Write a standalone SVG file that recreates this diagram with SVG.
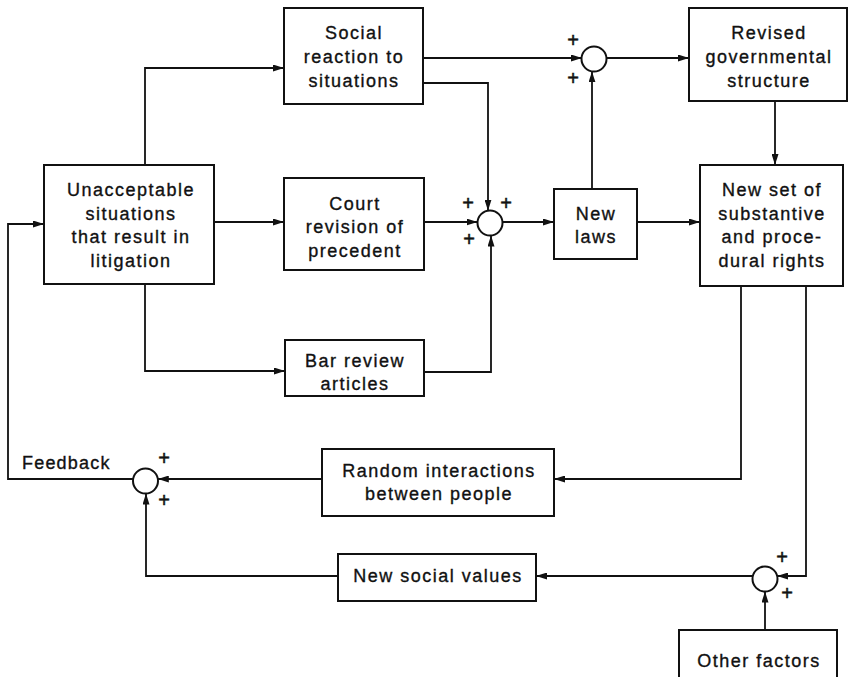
<svg xmlns="http://www.w3.org/2000/svg" width="849" height="677" viewBox="0 0 849 677">
<defs>
<marker id="ah" markerWidth="11" markerHeight="7" refX="11" refY="3.5" orient="auto" markerUnits="userSpaceOnUse"><path d="M0,0 L11,3.5 L0,7 z" fill="#111"/></marker>
<style>
.box{fill:#fff;stroke:#111;stroke-width:2}
.sum{fill:#fff;stroke:#111;stroke-width:2}
.t{font-family:"Liberation Sans",Arial,sans-serif;font-size:18px;letter-spacing:1.5px;fill:#111;stroke:#111;stroke-width:0.35;text-anchor:middle}
.tl{font-family:"Liberation Sans",Arial,sans-serif;font-size:18px;letter-spacing:1.2px;fill:#111;stroke:#111;stroke-width:0.35}
.p{font-family:"Liberation Sans",Arial,sans-serif;font-size:20px;fill:#111;stroke:#111;stroke-width:0.5;text-anchor:middle;dominant-baseline:central}
.c{fill:none;stroke:#111;stroke-width:1.8;marker-end:url(#ah)}
</style>
</defs>
<rect width="849" height="677" fill="#fff"/>
<g id="connectors">
<path class="c" d="M145,165 V68 H284"/>
<path class="c" d="M214,222 H284"/>
<path class="c" d="M145,284 V371 H285"/>
<path class="c" d="M423,58 H582"/>
<path class="c" d="M423,83 H488 V210.7"/>
<path class="c" d="M424,222 H477.5"/>
<path class="c" d="M424,372 H491 V235.5"/>
<path class="c" d="M502.5,222 H554"/>
<path class="c" d="M592,189 V71.4"/>
<path class="c" d="M606.5,58 H689"/>
<path class="c" d="M775,101 V165"/>
<path class="c" d="M637,222 H700"/>
<path class="c" d="M741,286 V479 H554"/>
<path class="c" d="M322,479 H157.8"/>
<path class="c" d="M133.2,479 H8 V224 H44"/>
<path class="c" d="M806,286 V576 H777.1"/>
<path class="c" d="M752.9,576 H536"/>
<path class="c" d="M338,576 H146 V493.5"/>
<path class="c" d="M765,630 V591.5"/>
</g>
<g id="sum1"><circle class="sum" cx="594" cy="59" r="12.5"/><text class="p" x="573" y="40">+</text><text class="p" x="573" y="78">+</text></g>
<g id="sum2"><circle class="sum" cx="490" cy="223" r="12.5"/><text class="p" x="468" y="203">+</text><text class="p" x="506" y="203">+</text><text class="p" x="469" y="239">+</text></g>
<g id="sum3"><circle class="sum" cx="145.5" cy="481" r="12.5"/><text class="p" x="164" y="458">+</text><text class="p" x="164" y="500">+</text></g>
<g id="sum4"><circle class="sum" cx="765" cy="579" r="12.5"/><text class="p" x="782" y="557">+</text><text class="p" x="787" y="593">+</text></g>
<g id="social"><rect class="box" x="284" y="8" width="139" height="96"/><text class="t" x="354" y="39">Social</text><text class="t" x="354" y="63">reaction to</text><text class="t" x="354" y="87">situations</text></g>
<g id="unacceptable"><rect class="box" x="44" y="165" width="170" height="119"/><text class="t" x="131" y="196">Unacceptable</text><text class="t" x="131" y="220">situations</text><text class="t" x="131" y="243">that result in</text><text class="t" x="131" y="267">litigation</text></g>
<g id="court"><rect class="box" x="284" y="178" width="140" height="92"/><text class="t" x="355" y="210">Court</text><text class="t" x="355" y="233">revision of</text><text class="t" x="355" y="257">precedent</text></g>
<g id="bar"><rect class="box" x="285" y="340" width="139" height="56"/><text class="t" x="355" y="367">Bar review</text><text class="t" x="355" y="390">articles</text></g>
<g id="newlaws"><rect class="box" x="554" y="189" width="83" height="70"/><text class="t" x="596" y="220">New</text><text class="t" x="596" y="243">laws</text></g>
<g id="revised"><rect class="box" x="689" y="8" width="158" height="93"/><text class="t" x="769" y="39">Revised</text><text class="t" x="769" y="63">governmental</text><text class="t" x="769" y="87">structure</text></g>
<g id="newset"><rect class="box" x="700" y="165" width="143" height="121"/><text class="t" x="772" y="196">New set of</text><text class="t" x="772" y="220">substantive</text><text class="t" x="772" y="243">and proce-</text><text class="t" x="772" y="267">dural rights</text></g>
<g id="random"><rect class="box" x="322" y="449" width="232" height="67"/><text class="t" x="439" y="477">Random interactions</text><text class="t" x="439" y="500">between people</text></g>
<g id="values"><rect class="box" x="338" y="554" width="198" height="47"/><text class="t" x="438" y="582">New social values</text></g>
<g id="other"><rect class="box" x="679" y="630" width="158" height="60"/><text class="t" x="759" y="667">Other factors</text></g>
<g id="feedback"><text class="tl" x="22" y="469">Feedback</text></g>
</svg>
